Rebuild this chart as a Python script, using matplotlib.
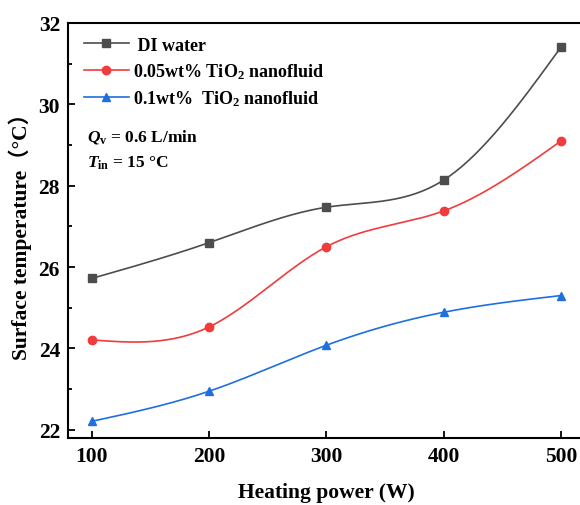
import numpy as np
import matplotlib
matplotlib.use("Agg")
import matplotlib.pyplot as plt
from matplotlib.ticker import MultipleLocator

plt.rcParams['font.family'] = ['Liberation Serif', 'Noto Sans CJK SC']
plt.rcParams['font.weight'] = 'bold'
plt.rcParams['mathtext.fontset'] = 'custom'
plt.rcParams['mathtext.rm'] = 'Liberation Serif:bold'
plt.rcParams['mathtext.it'] = 'Liberation Serif:italic:bold'
plt.rcParams['mathtext.bf'] = 'Liberation Serif:bold'

power = [100, 200, 300, 400, 500]
di_water = [25.72, 26.60, 27.47, 28.14, 31.41]
tio2_005 = [24.21, 24.53, 26.50, 27.38, 29.10]
tio2_01 = [22.21, 22.95, 24.08, 24.89, 25.30]

labels = [' DI water', '0.05wt% TiO$_2$ nanofluid', '0.1wt%  TiO$_2$ nanofluid']
colors = ['#4d4d4d', '#f03c3c', '#1e6fe0']
markers = ['s', 'o', '^']


def spline(x, y, n=200):
    # natural cubic spline, like Origin's "spline" connect
    x = np.asarray(x, float)
    y = np.asarray(y, float)
    k = len(x)
    h = np.diff(x)
    A = np.zeros((k, k))
    r = np.zeros(k)
    A[0, 0] = A[-1, -1] = 1
    for i in range(1, k - 1):
        A[i, i - 1] = h[i - 1]
        A[i, i] = 2 * (h[i - 1] + h[i])
        A[i, i + 1] = h[i]
        r[i] = 6 * ((y[i + 1] - y[i]) / h[i] - (y[i] - y[i - 1]) / h[i - 1])
    M = np.linalg.solve(A, r)
    xs = np.linspace(x[0], x[-1], n)
    idx = np.clip(np.searchsorted(x, xs) - 1, 0, k - 2)
    x0, x1 = x[idx], x[idx + 1]
    hh = x1 - x0
    t0, t1 = x1 - xs, xs - x0
    ys = (M[idx] * t0 ** 3 + M[idx + 1] * t1 ** 3) / (6 * hh) \
        + (y[idx] / hh - M[idx] * hh / 6) * t0 + (y[idx + 1] / hh - M[idx + 1] * hh / 6) * t1
    return xs, ys


fig = plt.figure(figsize=(5.8, 5.06), dpi=100)
ax = fig.add_axes([0.1178, 0.1324, 0.8902, 0.8205])

for yv, lab, c, m in zip([di_water, tio2_005, tio2_01], labels, colors, markers):
    xs, ys = spline(power, yv)
    ax.plot(xs, ys, color=c, lw=1.2)
    ax.plot(power, yv, ls='none', marker=m, color=c, ms=6)
    ax.plot([], [], color=c, lw=1.2, marker=m, ms=6, label=lab)

ax.set_xlim(80, 520)
ax.set_ylim(21.8, 32)
ax.set_xticks(power)
ax.yaxis.set_major_locator(MultipleLocator(2))
ax.yaxis.set_minor_locator(MultipleLocator(1))
ax.tick_params(which='both', direction='in', labelsize=15.5, width=1.3)
ax.tick_params(which='major', length=5, pad=6)
ax.tick_params(which='minor', length=3)
for s in ax.spines.values():
    s.set_linewidth(1.5)

ax.set_xlabel('Heating power (W)', fontsize=15.5, fontweight='bold', labelpad=11)
ax.set_ylabel('Surface temperature（°C）', fontsize=15.5, fontweight='bold', labelpad=5)

leg = ax.legend(loc='upper left', bbox_to_anchor=(0.005, 0.997), frameon=False,
                prop={'size': 13, 'weight': 'bold'}, handlelength=2.5,
                handletextpad=0.25, labelspacing=0.42, borderaxespad=0.3)

ax.text(0.036, 0.728, r'$Q_\mathrm{v}$ = 0.6 L/min', transform=ax.transAxes,
        fontsize=12.5, fontweight='bold', va='center')
ax.text(0.036, 0.663, r'$T_\mathrm{in}$ = 15 °C', transform=ax.transAxes,
        fontsize=12.5, fontweight='bold', va='center')

fig.savefig('out.png', dpi=100)
